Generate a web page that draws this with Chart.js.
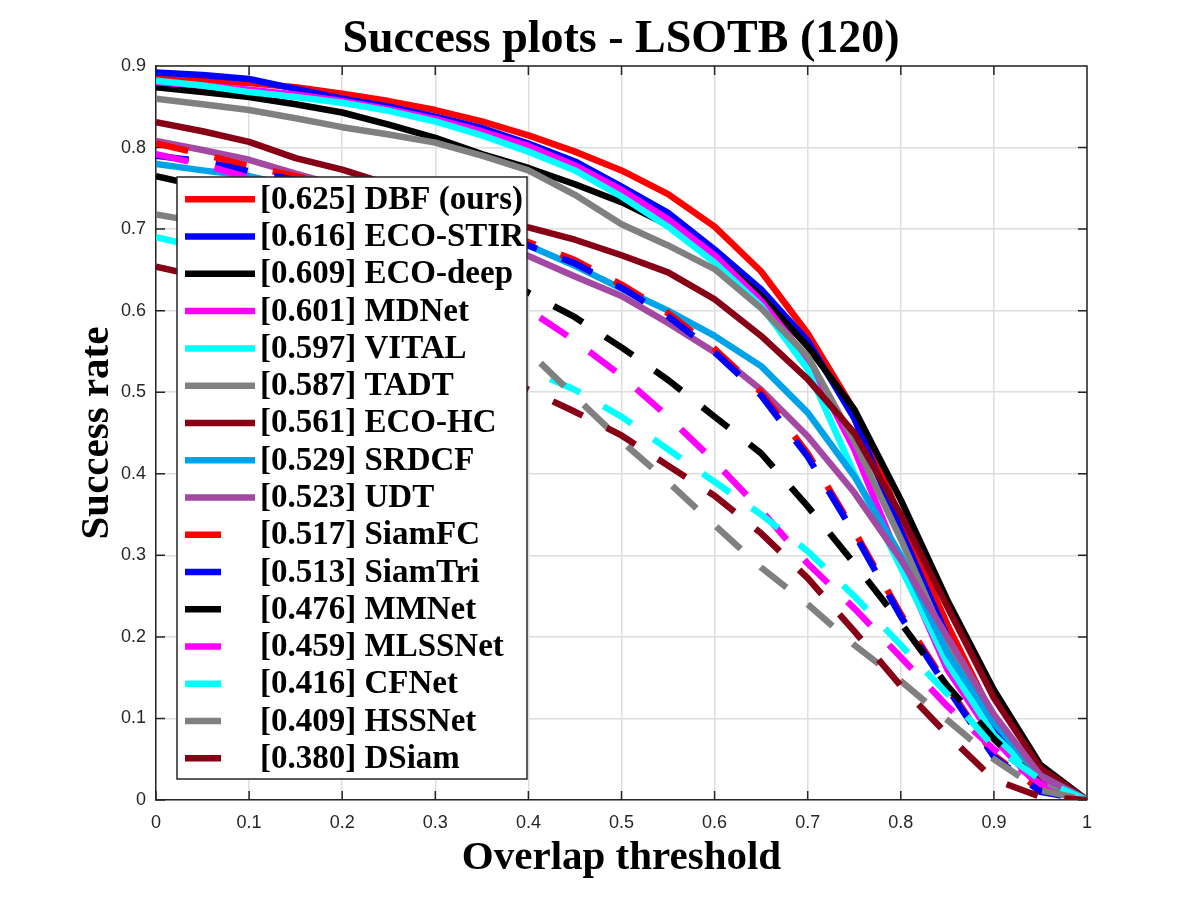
<!DOCTYPE html>
<html>
<head>
<meta charset="utf-8">
<title>Success plots - LSOTB (120)</title>
<script src="https://cdn.jsdelivr.net/npm/chart.js@4.4.1/dist/chart.umd.min.js"></script>
<style>
  html, body { margin: 0; padding: 0; background: #fff; }
  #wrap { width: 1200px; height: 900px; }
</style>
</head>
<body>
<div id="wrap"><canvas id="successChart"></canvas></div>
<script>
// overlap thresholds and axis ticks
const thresholds = [0, 0.05, 0.1, 0.15, 0.2, 0.25, 0.3, 0.35, 0.4, 0.45, 0.5,
                    0.55, 0.6, 0.65, 0.7, 0.75, 0.8, 0.85, 0.9, 0.95, 1];
const xTicks = [0, 0.1, 0.2, 0.3, 0.4, 0.5, 0.6, 0.7, 0.8, 0.9, 1];
const yTicks = [0, 0.1, 0.2, 0.3, 0.4, 0.5, 0.6, 0.7, 0.8, 0.9];

const trackers = ['DBF (ours)', 'ECO-STIR', 'ECO-deep', 'MDNet', 'VITAL', 'TADT', 'ECO-HC', 'SRDCF',
                  'UDT', 'SiamFC', 'SiamTri', 'MMNet', 'MLSSNet', 'CFNet', 'HSSNet', 'DSiam'];
const aucScores = ['0.625', '0.616', '0.609', '0.601', '0.597', '0.587', '0.561', '0.529',
                   '0.523', '0.517', '0.513', '0.476', '0.459', '0.416', '0.409', '0.380'];

// success rate at each threshold
const dbf     = [0.885, 0.882, 0.879, 0.874, 0.866, 0.857, 0.846, 0.832, 0.815, 0.795, 0.772, 0.743, 0.703, 0.648, 0.572, 0.478, 0.345, 0.215, 0.100, 0.030, 0];
const ecoStir = [0.892, 0.889, 0.884, 0.872, 0.860, 0.850, 0.838, 0.824, 0.805, 0.783, 0.752, 0.720, 0.675, 0.626, 0.563, 0.468, 0.330, 0.200, 0.090, 0.020, 0];
const ecoDeep = [0.874, 0.868, 0.862, 0.853, 0.843, 0.828, 0.812, 0.792, 0.775, 0.755, 0.733, 0.705, 0.667, 0.618, 0.556, 0.479, 0.368, 0.245, 0.135, 0.043, 0];
const mdnet   = [0.880, 0.876, 0.871, 0.865, 0.857, 0.847, 0.835, 0.820, 0.802, 0.778, 0.748, 0.712, 0.668, 0.612, 0.540, 0.430, 0.290, 0.160, 0.075, 0.015, 0];
const vital   = [0.882, 0.876, 0.868, 0.862, 0.855, 0.845, 0.832, 0.815, 0.795, 0.772, 0.740, 0.703, 0.659, 0.606, 0.528, 0.400, 0.285, 0.168, 0.080, 0.025, 0];
const tadt    = [0.860, 0.853, 0.846, 0.836, 0.825, 0.816, 0.806, 0.790, 0.772, 0.742, 0.706, 0.680, 0.651, 0.603, 0.544, 0.440, 0.320, 0.190, 0.100, 0.025, 0];
const ecoHc   = [0.831, 0.820, 0.807, 0.787, 0.773, 0.755, 0.738, 0.720, 0.702, 0.687, 0.668, 0.647, 0.614, 0.569, 0.516, 0.450, 0.350, 0.237, 0.125, 0.039, 0];
const srdcf   = [0.780, 0.772, 0.765, 0.752, 0.740, 0.728, 0.715, 0.698, 0.680, 0.655, 0.627, 0.600, 0.569, 0.532, 0.475, 0.397, 0.300, 0.180, 0.095, 0.030, 0];
const udt     = [0.808, 0.797, 0.785, 0.768, 0.752, 0.735, 0.717, 0.692, 0.667, 0.642, 0.618, 0.585, 0.549, 0.503, 0.446, 0.377, 0.295, 0.200, 0.105, 0.030, 0];
const siamFc  = [0.805, 0.792, 0.777, 0.765, 0.752, 0.738, 0.722, 0.704, 0.684, 0.662, 0.632, 0.597, 0.553, 0.500, 0.425, 0.330, 0.228, 0.140, 0.055, 0.012, 0];
const siamTri = [0.790, 0.783, 0.771, 0.760, 0.748, 0.734, 0.718, 0.700, 0.680, 0.658, 0.628, 0.593, 0.549, 0.496, 0.421, 0.327, 0.225, 0.137, 0.053, 0.010, 0];
const mmnet   = [0.765, 0.752, 0.738, 0.723, 0.707, 0.690, 0.672, 0.650, 0.622, 0.592, 0.555, 0.515, 0.470, 0.425, 0.360, 0.290, 0.217, 0.140, 0.075, 0.020, 0];
const mlssnet = [0.792, 0.779, 0.763, 0.744, 0.722, 0.697, 0.669, 0.637, 0.601, 0.563, 0.520, 0.470, 0.415, 0.355, 0.290, 0.235, 0.175, 0.115, 0.062, 0.020, 0];
const cfnet   = [0.690, 0.677, 0.662, 0.645, 0.626, 0.605, 0.581, 0.555, 0.528, 0.503, 0.470, 0.430, 0.390, 0.350, 0.305, 0.250, 0.190, 0.130, 0.065, 0.025, 0];
const hssnet  = [0.718, 0.708, 0.697, 0.684, 0.668, 0.649, 0.627, 0.600, 0.550, 0.495, 0.440, 0.390, 0.337, 0.285, 0.240, 0.190, 0.146, 0.098, 0.050, 0.012, 0];
const dsiam   = [0.654, 0.641, 0.626, 0.609, 0.591, 0.571, 0.550, 0.527, 0.503, 0.476, 0.447, 0.410, 0.373, 0.327, 0.272, 0.207, 0.140, 0.080, 0.025, 0.004, 0];

const series = [dbf, ecoStir, ecoDeep, mdnet, vital, tadt, ecoHc, srdcf,
                udt, siamFc, siamTri, mmnet, mlssnet, cfnet, hssnet, dsiam];

const lineColors = ['#ff0000', '#0000ff', '#000000', '#ff00ff', '#00ffff', '#808080', '#880015', '#00a2e8',
                    '#a349a4', '#ff0000', '#0000ff', '#000000', '#ff00ff', '#00ffff', '#808080', '#880015'];
const isDashed = trackers.map((t, i) => i >= 9);

const axisColor = '#262626';
const lineW = 6.5;

// box around the plot with inward tick marks (matlab style)
const frameTicks = {
    id: 'frameTicks',
    beforeDatasetsDraw(chart) {
        const { ctx, chartArea: a, scales: { x, y } } = chart;
        ctx.save();
        ctx.strokeStyle = axisColor;
        ctx.lineWidth = 1.5;
        ctx.beginPath();
        ctx.moveTo(a.left, a.top);
        ctx.lineTo(a.right, a.top);
        ctx.lineTo(a.right, a.bottom);
        xTicks.forEach(v => {
            const px = x.getPixelForValue(v);
            ctx.moveTo(px, a.bottom); ctx.lineTo(px, a.bottom - 9);
            ctx.moveTo(px, a.top); ctx.lineTo(px, a.top + 9);
        });
        yTicks.forEach(v => {
            const py = y.getPixelForValue(v);
            ctx.moveTo(a.left, py); ctx.lineTo(a.left + 9, py);
            ctx.moveTo(a.right, py); ctx.lineTo(a.right - 9, py);
        });
        ctx.stroke();
        ctx.restore();
    }
};

// legend drawn inside the plot, on top of the curves
const insideLegend = {
    id: 'insideLegend',
    afterDatasetsDraw(chart) {
        const { ctx, chartArea } = chart;
        const left = chartArea.left + 21;
        const top = chartArea.top + 111;
        const rowH = 37.27;
        ctx.save();
        ctx.fillStyle = '#ffffff';
        ctx.fillRect(left, top, 350, 602);
        ctx.strokeStyle = axisColor;
        ctx.lineWidth = 1.5;
        ctx.strokeRect(left, top, 350, 602);
        ctx.font = 'bold 33px "Liberation Serif", "Times New Roman", serif';
        ctx.textBaseline = 'middle';
        ctx.textAlign = 'left';
        chart.data.datasets.forEach((ds, i) => {
            const yy = top + 22.3 + i * rowH;
            ctx.strokeStyle = ds.borderColor;
            ctx.lineWidth = lineW;
            ctx.lineCap = 'butt';
            ctx.beginPath();
            ctx.moveTo(left + 8, yy);
            ctx.lineTo(left + (isDashed[i] ? 44 : 78), yy);
            ctx.stroke();
            ctx.fillStyle = '#000000';
            ctx.fillText(ds.label, left + 83, yy + 1);
        });
        ctx.restore();
    }
};

const ctx = document.getElementById('successChart').getContext('2d');
const successChart = new Chart(ctx, {
    type: 'line',
    data: {
        datasets: trackers.map((name, i) => ({
            label: '[' + aucScores[i] + '] ' + name,
            data: series[i].map((v, k) => ({ x: thresholds[k], y: v })),
            borderColor: lineColors[i],
            backgroundColor: lineColors[i],
            borderWidth: lineW,
            borderDash: isDashed[i] ? [33, 27] : [],
            borderCapStyle: 'butt',
            borderJoinStyle: 'round',
            pointRadius: 0,
            fill: false,
            tension: 0,
            order: trackers.length - i,
            yAxisID: 'y'
        }))
    },
    options: {
        responsive: true,
        maintainAspectRatio: false,
        animation: false,
        layout: { padding: { left: 42, right: 0, top: 0, bottom: 0 } },
        plugins: {
            legend: { display: false },
            tooltip: { enabled: false },
            title: {
                display: true,
                text: 'Success plots - LSOTB (120)',
                color: '#000000',
                font: { family: 'Liberation Serif', size: 46, weight: 'bold', lineHeight: 1 },
                padding: { top: 17, bottom: 3 }
            }
        },
        scales: {
            x: {
                type: 'linear',
                min: 0,
                max: 1,
                afterBuildTicks: s => { s.ticks = xTicks.map(v => ({ value: v })); },
                afterFit: s => { s.height = 100; },
                ticks: {
                    color: axisColor,
                    font: { family: 'Liberation Sans', size: 18 },
                    padding: 12,
                    maxRotation: 0,
                    callback: v => String(v)
                },
                grid: { color: '#dedede', lineWidth: 1.5, drawTicks: false },
                border: { color: axisColor, width: 1.5 },
                title: {
                    display: true,
                    text: 'Overlap threshold',
                    color: '#000000',
                    font: { family: 'Liberation Serif', size: 41, weight: 'bold' },
                    padding: { top: 0, bottom: 17 }
                }
            },
            y: {
                type: 'linear',
                position: 'left',
                min: 0,
                max: 0.9,
                afterBuildTicks: s => { s.ticks = yTicks.map(v => ({ value: v })); },
                afterFit: s => { s.width = 114; },
                ticks: {
                    color: axisColor,
                    font: { family: 'Liberation Sans', size: 18 },
                    padding: 10,
                    callback: v => String(v)
                },
                grid: { color: '#dedede', lineWidth: 1.5, drawTicks: false },
                border: { color: axisColor, width: 1.5 },
                title: {
                    display: true,
                    text: 'Success rate',
                    color: '#000000',
                    font: { family: 'Liberation Serif', size: 41, weight: 'bold' },
                    padding: { top: 31, bottom: 0 }
                }
            },
            // empty right axis, only reserves the margin on the right
            y2: {
                type: 'linear',
                position: 'right',
                display: true,
                grid: { display: false, drawTicks: false },
                ticks: { display: false },
                border: { display: false },
                afterFit: s => { s.width = 113; }
            }
        }
    },
    plugins: [frameTicks, insideLegend]
});
</script>
</body>
</html>
